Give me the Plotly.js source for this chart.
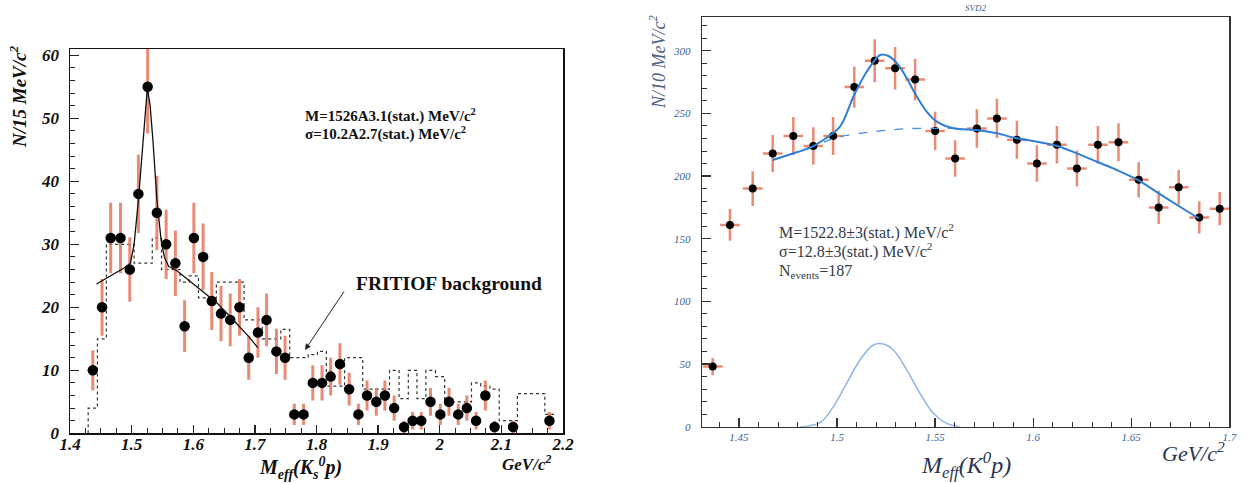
<!DOCTYPE html>
<html>
<head>
<meta charset="utf-8">
<script src="https://cdn.plot.ly/plotly-3.0.1.min.js"></script>
<style>html,body{margin:0;padding:0;background:#fff}#chart{width:1249px;height:483px}</style>
</head>
<body>
<div id="chart"></div>
<script>
// ---------- Left panel: M_eff(Ks0 p), 15 MeV bins ----------
const leftBinCenters = [1.437,1.452,1.466,1.482,1.497,1.511,1.526,1.541,1.556,1.571,1.586,1.601,1.616,1.630,1.645,1.660,1.675,1.690,1.705,1.719,1.735,1.749,1.764,1.779,1.794,1.809,1.823,1.838,1.853,1.868,1.882,1.897,1.911,1.926,1.942,1.956,1.970,1.985,2.001,2.015,2.030,2.044,2.059,2.074,2.089,2.104,2.119,2.133,2.148,2.163,2.178];
const leftCounts = [10,20,31,31,26,38,55,35,30,27,17,31,28,21,19,18,20,12,16,18,13,12,3,3,8,8,9,11,7,3,6,5,6,4,1,2,2,5,3,5,3,4,2,6,1,null,1,null,null,null,2];
const leftErrors = [3.2,4.5,5.6,5.6,5.1,6.2,7.4,5.9,5.5,5.2,4.1,5.6,5.3,4.6,4.4,4.2,4.5,3.5,4.0,4.2,3.6,3.5,1.7,1.7,2.8,2.8,3.0,3.3,2.6,1.7,2.4,2.2,2.4,2.0,1.0,1.4,1.4,2.2,1.7,2.2,1.7,2.0,1.4,2.4,1.0,null,1.0,null,null,null,1.4];
const fritiofBackground = [4,15,30,30,30,27,27,31,26,26,24,25,21.5,21.5,24,24,24,18,18,15,15,16.5,12,12,12.5,13,7.5,7.5,12,12,7,7,7,10,5.5,10,5.5,10,9,5,5,5,8,7.5,7,2,2,6.3,6.3,6.3,3];
const leftFitX = [1.443,1.465,1.487,1.498,1.504,1.511,1.519,1.5255,1.530,1.5345,1.541,1.548,1.553,1.560,1.5735,1.595,1.617,1.6385,1.660,1.676,1.6905,1.7046];
const leftFitY = [23.7,25.0,26.2,27.0,30.0,37.0,46.5,54.8,52.0,46.6,37.1,30.5,28.0,26.5,25.8,24.1,22.5,20.7,18.5,16.9,15.3,13.6];

// ---------- Right panel: SVD2, M_eff(K0 p), 10 MeV bins ----------
const rightBinCenters = [1.4366,1.4454,1.457,1.4672,1.4777,1.4879,1.498,1.5088,1.5192,1.5296,1.5398,1.550,1.5602,1.5713,1.5815,1.5917,1.6019,1.6121,1.6223,1.633,1.6435,1.6538,1.664,1.6742,1.6847,1.6951];
const rightCounts = [48,161,190,218,232,224,232,271,292,286,277,236,214,238,246,229,210,225,206,225,227,197,175,191,167,174];
const rightErrors = [6.9,12.7,13.8,14.8,15.2,15.0,15.2,16.5,17.1,16.9,16.6,15.4,14.6,15.4,15.7,15.1,14.5,15.0,14.4,15.0,15.1,14.0,13.2,13.8,12.9,13.2];
const rightFitX = [1.4672,1.4777,1.4879,1.5015,1.5083,1.5151,1.5219,1.5262,1.5313,1.5356,1.5407,1.5458,1.5509,1.5594,1.5713,1.5815,1.5917,1.6019,1.6121,1.6223,1.6325,1.6427,1.6538,1.664,1.6742,1.6844];
const rightFitY = [212.8,218,223.9,239.4,263.3,283.2,296.6,295.8,288.6,278,263.3,251.3,243.4,238.1,236.7,234.1,230.1,227.4,224.2,218.1,211.4,204.8,196.6,186.2,176.1,166.3];
const rightBkgX = [1.4672,1.4879,1.5015,1.5185,1.5356,1.5491,1.5594];
const rightBkgY = [212.8,223.9,231.4,235.4,237.8,238.1,238.1];
const rightGaussX = [1.4811,1.4913,1.4981,1.5049,1.5117,1.5185,1.5236,1.5287,1.5356,1.5423,1.5491,1.5559,1.5628];
const rightGaussY = [0,3.2,16,34.6,53.2,65.2,66,61.2,45.2,26.6,10.7,2.7,0];

// step outline for the FRITIOF histogram, built from bin centres
const histX = [], histY = [];
for (let k = 0; k < leftBinCenters.length; k++) {
  const c = leftBinCenters[k];
  const lo = k === 0 ? c - (leftBinCenters[1] - leftBinCenters[0]) / 2 : (leftBinCenters[k - 1] + c) / 2;
  const hi = k === leftBinCenters.length - 1 ? c + (c - leftBinCenters[k - 1]) / 2 : (c + leftBinCenters[k + 1]) / 2;
  if (k === 0) { histX.push(lo); histY.push(0); }
  histX.push(lo, hi); histY.push(fritiofBackground[k], fritiofBackground[k]);
}

const errColor = 'rgba(229,118,92,0.85)';
const serif = 'Liberation Serif, Times New Roman, serif';
const blueText = '#3d5f93';
const navy = '#2c3652';

const traces = [
  {x: histX, y: histY, xaxis: 'x', yaxis: 'y', mode: 'lines', line: {color: '#333', width: 1.2, dash: 'dot'}, hoverinfo: 'skip'},
  {x: leftBinCenters, y: leftCounts, xaxis: 'x', yaxis: 'y', mode: 'markers',
   marker: {color: '#000', size: 10.5},
   error_y: {type: 'data', array: leftErrors, color: errColor, thickness: 3, width: 0}},
  {x: leftFitX, y: leftFitY, xaxis: 'x', yaxis: 'y', mode: 'lines', line: {color: '#111', width: 1.3}},

  {x: rightGaussX, y: rightGaussY, xaxis: 'x2', yaxis: 'y2', mode: 'lines', line: {color: '#8db6e6', width: 1.5, shape: 'spline', smoothing: 1}},
  {x: rightBinCenters, y: rightCounts, xaxis: 'x2', yaxis: 'y2', mode: 'markers',
   marker: {color: '#000', size: 8},
   error_y: {type: 'data', array: rightErrors, color: errColor, thickness: 2.5, width: 0},
   error_x: {type: 'constant', value: 0.005, color: errColor, thickness: 2.5, width: 0}},
  {x: rightBkgX, y: rightBkgY, xaxis: 'x2', yaxis: 'y2', mode: 'lines', line: {color: '#4a8fdc', width: 1.3, dash: 'dash', shape: 'spline'}},
  {x: rightFitX, y: rightFitY, xaxis: 'x2', yaxis: 'y2', mode: 'lines', line: {color: '#2f7fd4', width: 2, shape: 'spline', smoothing: 0.8}}
];

const W = 1249, H = 483;
const px = v => v / W, py = v => 1 - v / H;

function ann(text, x, y, size, opts) {
  return Object.assign({text: text, x: px(x), y: py(y), xref: 'paper', yref: 'paper', showarrow: false,
    xanchor: 'center', yanchor: 'middle', font: {family: serif, size: size, color: '#111'}}, opts || {});
}

const annotations = [
  ann('N/15 MeV/c<sup>2</sup>', 18, 97, 19, {textangle: -90, font: {family: serif, size: 19, color: '#111', weight: 'bold', style: 'italic'}}),
  ann('M<sub>eff</sub>(K<sub>s</sub><sup>0</sup>p)', 300, 468, 20, {font: {family: serif, size: 20, color: '#111', weight: 'bold', style: 'italic'}}),
  ann('GeV/c<sup>2</sup>', 526, 463, 17, {font: {family: serif, size: 17, color: '#111', weight: 'bold', style: 'italic'}}),
  ann('M=1526A3.1(stat.) MeV/c<sup>2</sup>', 303, 115, 15, {xanchor: 'left', font: {family: serif, size: 15, color: '#111', weight: 'bold'}}),
  ann('\u03c3=10.2A2.7(stat.) MeV/c<sup>2</sup>', 303, 134, 15, {xanchor: 'left', font: {family: serif, size: 15, color: '#111', weight: 'bold'}}),
  ann('FRITIOF background', 449, 283, 19.5, {font: {family: serif, size: 19.5, color: '#111', weight: 'bold'}}),
  {text: '', x: px(305), y: py(350), xref: 'paper', yref: 'paper', showarrow: true, ax: 40, ay: -60,
   arrowhead: 2, arrowsize: 1.2, arrowwidth: 1, arrowcolor: '#222'},

  ann('SVD2', 975, 8, 9, {font: {family: serif, size: 9, color: blueText, style: 'italic'}}),
  ann('N/10 MeV/c<sup>2</sup>', 658, 62, 18, {textangle: -90, font: {family: serif, size: 18, color: '#4a6080', style: 'italic'}}),
  ann('M<sub>eff</sub>(K<sup>0</sup><i>p</i>)', 966, 465, 24, {font: {family: serif, size: 24, color: navy, style: 'italic'}}),
  ann('GeV/c<sup>2</sup>', 1193, 452, 22, {font: {family: serif, size: 22, color: navy, style: 'italic'}}),
  ann('M=1522.8\u00b13(stat.) MeV/c<sup>2</sup>', 777, 231, 16, {xanchor: 'left', font: {family: serif, size: 16, color: '#333a48'}}),
  ann('\u03c3=12.8\u00b13(stat.) MeV/c<sup>2</sup>', 777, 251, 16, {xanchor: 'left', font: {family: serif, size: 16, color: '#333a48'}}),
  ann('N<sub>events</sub>=187', 777, 271, 16, {xanchor: 'left', font: {family: serif, size: 16, color: '#333a48'}})
];

const layout = {
  width: W, height: H,
  margin: {l: 0, r: 0, t: 0, b: 0},
  paper_bgcolor: '#fff', plot_bgcolor: '#fff',
  showlegend: false,
  xaxis: {domain: [px(70), px(563)], range: [1.4, 2.2], anchor: 'y', tick0: 1.4, dtick: 0.1,
    ticks: 'inside', ticklen: 8, tickwidth: 1.3, tickcolor: '#222',
    minor: {dtick: 0.025, ticks: 'inside', ticklen: 5, tickwidth: 1, tickcolor: '#222'},
    showline: true, mirror: true, linecolor: '#111', linewidth: 1.5, showgrid: false, zeroline: false,
    ticklabelstandoff: -5,
    tickfont: {family: serif, size: 17, color: '#111', weight: 'bold', style: 'italic'}},
  yaxis: {domain: [py(433.3), py(49)], range: [0, 61], anchor: 'x', dtick: 10,
    ticks: 'inside', ticklen: 9, tickwidth: 1.3, tickcolor: '#222',
    minor: {dtick: 2, ticks: 'inside', ticklen: 5, tickwidth: 1, tickcolor: '#222'},
    showline: true, mirror: true, linecolor: '#111', linewidth: 1.5, showgrid: false, zeroline: false,
    ticklabelstandoff: 6,
    tickfont: {family: serif, size: 17, color: '#111', weight: 'bold', style: 'italic'}},
  xaxis2: {domain: [px(702.3), px(1229.3)], range: [1.4313, 1.70], anchor: 'y2', dtick: 0.05,
    ticks: 'inside', ticklen: 9, tickwidth: 1.3, tickcolor: '#333',
    minor: {dtick: 0.01, ticks: 'inside', ticklen: 5, tickwidth: 1, tickcolor: '#333'},
    showline: true, mirror: true, linecolor: '#333', linewidth: 1.5, showgrid: false, zeroline: false,
    tickfont: {family: serif, size: 11, color: blueText, style: 'italic'}},
  yaxis2: {domain: [py(426.7), py(17.3)], range: [0, 326.7], anchor: 'x2', dtick: 50,
    ticks: 'inside', ticklen: 9, tickwidth: 1.3, tickcolor: '#333',
    minor: {dtick: 10, ticks: 'inside', ticklen: 5, tickwidth: 1, tickcolor: '#333'},
    showline: true, mirror: true, linecolor: '#333', linewidth: 1.5, showgrid: false, zeroline: false,
    ticklabelstandoff: 8,
    tickfont: {family: serif, size: 11, color: blueText, style: 'italic'}},
  annotations: annotations
};

Plotly.newPlot('chart', traces, layout, {displayModeBar: false, staticPlot: true});
</script>
</body>
</html>
